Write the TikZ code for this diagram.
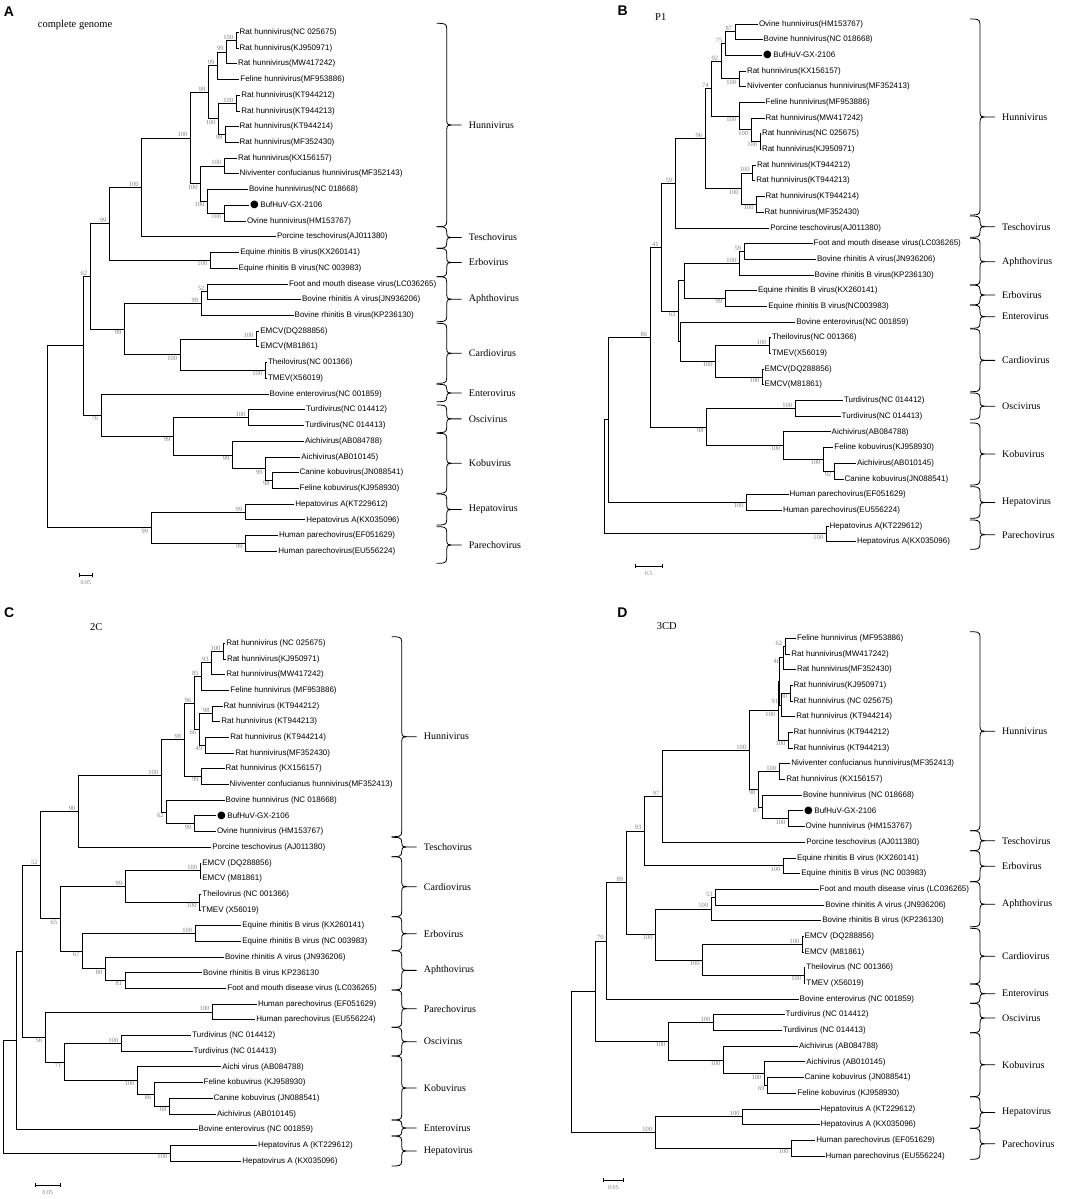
\documentclass[tikz,border=0pt]{standalone}
\usepackage{fontspec}
\setmainfont{Liberation Serif}
\setsansfont{Liberation Sans}
\newfontfamily\dejavu{DejaVu Sans}
\usetikzlibrary{calc}

\newcommand\dotmark{{\dejavu\fontsize{10}{10}\selectfont ●}\hspace{1.5pt}}
\newcommand\inode[5][]{%
  \path let \p1=($(#4)!.5!(#5)$) in coordinate[#1] (#2) at (#3pt,\y1);
  \draw[br] (#2) |- (#4) (#2) |- (#5);}
\newcommand\clade[5]{%
  \pgfmathsetmacro\cMid{(#3+#4)/2}%
  \pgfmathsetmacro\cHk{min(5,(#4-#3)/4)}%
  \draw[brc] (#2,#3) .. controls +(7,0) and +(0,-\cHk) .. (#2+10,#3+\cHk)
    -- (#2+10,\cMid-\cHk) .. controls +(0,\cHk) and +(-3,0) .. (#2+15,\cMid)
    .. controls +(-3,0) and +(0,-\cHk) .. (#2+10,\cMid+\cHk)
    -- (#2+10,#4-\cHk) .. controls +(0,\cHk) and +(7,0) .. (#2,#4)
    (#2+15,\cMid) -- (#2+25,\cMid);
  \node[cname] (#1) at (#2+32,\cMid) {#5};}

\tikzset{
  br/.style={line width=0.9pt},
  brc/.style={line width=0.8pt},
  leaf/.style={anchor=west, inner sep=1pt, font=\sffamily\fontsize{8}{9}\selectfont},
  bs/.style={font=\fontsize{6.5}{7}\selectfont, text=black!50, inner sep=0.8pt, xshift=-2pt},
  bsu/.style={label={[bs]above left:#1}},
  bsd/.style={label={[bs]below left:#1}},
  cname/.style={anchor=west, inner sep=0pt, font=\fontsize{10}{12}\selectfont},
  ttl/.style={anchor=west, inner sep=0pt, font=\fontsize{10.5}{12}\selectfont},
  plet/.style={inner sep=0pt, font=\sffamily\bfseries\fontsize{14}{14}\selectfont},
  sbl/.style={inner sep=0pt, font=\fontsize{6}{7}\selectfont, text=black!50}
}

\begin{document}
\begin{tikzpicture}[x=1pt,y=-1pt]
\fill[white] (0,0) rectangle (1084,1199);
\useasboundingbox (0,0) rectangle (1084,1199);

% A
\node[plet] (pA) at (9,12) {A};
\node[ttl] (tA) at (37.7,25) {complete genome};
\foreach \x/\lab [count=\i] in {
238.5/{Rat hunnivirus(NC 025675)},
238.5/{Rat hunnivirus(KJ950971)},
236.8/{Rat hunnivirus(MW417242)},
239.2/{Feline hunnivirus(MF953886)},
240.2/{Rat hunnivirus(KT944212)},
240.2/{Rat hunnivirus(KT944213)},
238.5/{Rat hunnivirus(KT944214)},
238.5/{Rat hunnivirus(MF352430)},
236.8/{Rat hunnivirus(KX156157)},
238.5/{Niviventer confucianus hunnivirus(MF352143)},
247.8/{Bovine hunnivirus(NC 018668)},
249/{\dotmark BufHuV-GX-2106},
245.8/{Ovine hunnivirus(HM153767)},
275.8/{Porcine teschovirus(AJ011380)},
239.2/{Equine rhinitis B virus(KX260141)},
237.5/{Equine rhinitis B virus(NC 003983)},
287.8/{Foot and mouth disease virus(LC036265)},
300.8/{Bovine rhinitis A virus(JN936206)},
293.5/{Bovine rhinitis B virus(KP236130)},
259.2/{EMCV(DQ288856)},
259.2/{EMCV(M81861)},
266.8/{Theilovirus(NC 001366)},
266.8/{TMEV(X56019)},
268.5/{Bovine enterovirus(NC 001859)},
305.2/{Turdivirus(NC 014412)},
303.8/{Turdivirus(NC 014413)},
303.8/{Aichivirus(AB084788)},
300.2/{Aichivirus(AB010145)},
298.5/{Canine kobuvirus(JN088541)},
298.5/{Feline kobuvirus(KJ958930)},
294.2/{Hepatovirus A(KT229612)},
305.2/{Hepatovirus A(KX035096)},
277.8/{Human parechovirus(EF051629)},
277.2/{Human parechovirus(EU556224)}}
  \node[leaf] (a\i) at (\x,{32.3+15.73*(\i-1)}) {\lab};
\inode[bsu=100]{a1t2}{236}{a1}{a2}
\inode[bsu=99]{a1t3}{226.7}{a1t2}{a3}
\inode[bsu=99]{a1t4}{217.3}{a1t3}{a4}
\inode[bsu=100]{a5t6}{236}{a5}{a6}
\inode[bsd=99]{a7t8}{225.3}{a7}{a8}
\inode[bsd=100]{a5t8}{218.7}{a5t6}{a7t8}
\inode[bsu=99]{a1t8}{208.3}{a1t4}{a5t8}
\inode[bsu=100]{a9t10}{224}{a9}{a10}
\inode[bsd=100]{a12t13}{224}{a12}{a13}
\inode[bsd=100]{a11t13}{207.3}{a11}{a12t13}
\inode[bsd=100]{a9t13}{200.7}{a9t10}{a11t13}
\inode[bsu=100]{a1t13}{190.3}{a1t8}{a9t13}
\inode[bsu=100]{a1t14}{141.7}{a1t13}{a14}
\inode[bsd=100]{a15t16}{210}{a15}{a16}
\inode[bsu=99]{a1t16}{109.3}{a1t14}{a15t16}
\inode[bsu=52]{a17t18}{207.3}{a17}{a18}
\inode[bsu=99]{a17t19}{201}{a17t18}{a19}
\inode[bsu=100]{a20t21}{256.3}{a20}{a21}
\inode[bsd=100]{a22t23}{265}{a22}{a23}
\inode[bsd=100]{a20t23}{180}{a20t21}{a22t23}
\inode[bsd=99]{a17t23}{124.3}{a17t19}{a20t23}
\inode[bsu=62]{a1t23}{90}{a1t16}{a17t23}
\inode[bsu=100]{a25t26}{248.3}{a25}{a26}
\inode[bsd=98]{a29t30}{272.7}{a29}{a30}
\inode[bsd=99]{a28t30}{265.7}{a28}{a29t30}
\inode[bsd=99]{a27t30}{232.3}{a27}{a28t30}
\inode[bsd=99]{a25t30}{173.3}{a25t26}{a27t30}
\inode[bsd=76]{a24t30}{101}{a24}{a25t30}
\inode{a1t30}{83.3}{a1t23}{a24t30}
\inode[bsu=99]{a31t32}{245}{a31}{a32}
\inode[bsd=99]{a33t34}{245.7}{a33}{a34}
\inode[bsd=99]{a31t34}{151}{a31t32}{a33t34}
\inode{a1t34}{47.7}{a1t30}{a31t34}
\foreach \ya/\yb/\nm [count=\k] in {23.3/226.7/Hunnivirus, 226.7/248.3/Teschovirus,
  248.3/276.7/Erbovirus, 276.7/321.7/Aphthovirus, 323.3/383.3/Cardiovirus,
  384.3/401.7/Enterovirus, 405/432.7/Oscivirus, 433.3/493.3/Kobuvirus,
  494/525/Hepatovirus, 526.7/563.3/Parechovirus}
  {\clade{ac\k}{436.7}{\ya}{\yb}{\nm}}
\draw[brc] (79,573) -- (79,577) (79,575) -- (92.7,575) (92.7,573) -- (92.7,577);
\node[sbl] (sA) at (85.8,583) {0.05};

% B
\node[plet] (pB) at (622.7,11) {B};
\node[ttl] (tB) at (655,16.7) {P1};
\foreach \x/\lab [count=\i] in {
757.8/{Ovine hunnivirus(HM153767)},
762.5/{Bovine hunnivirus(NC 018668)},
762/{\dotmark BufHuV-GX-2106},
745.8/{Rat hunnivirus(KX156157)},
745.8/{Niviventer confucianus hunnivirus(MF352413)},
764.5/{Feline hunnivirus(MF953886)},
764.5/{Rat hunnivirus(MW417242)},
760.8/{Rat hunnivirus(NC 025675)},
760.8/{Rat hunnivirus(KJ950971)},
755.8/{Rat hunnivirus(KT944212)},
755.2/{Rat hunnivirus(KT944213)},
764.5/{Rat hunnivirus(KT944214)},
763.5/{Rat hunnivirus(MF352430)},
769.2/{Porcine teschovirus(AJ011380)},
812.5/{Foot and mouth disease virus(LC036265)},
815.8/{Bovine rhinitis A virus(JN936206)},
813.5/{Bovine rhinitis B virus(KP236130)},
756.8/{Equine rhinitis B virus(KX260141)},
767.2/{Equine rhinitis B virus(NC003983)},
795.2/{Bovine enterovirus(NC 001859)},
770.8/{Theilovirus(NC 001366)},
770.8/{TMEV(X56019)},
763.5/{EMCV(DQ288856)},
763.5/{EMCV(M81861)},
842.8/{Turdivirus(NC 014412)},
840.5/{Turdivirus(NC 014413)},
830.5/{Aichivirus(AB084788)},
833.2/{Feline kobuvirus(KJ958930)},
855.8/{Aichivirus(AB010145)},
843.5/{Canine kobuvirus(JN088541)},
788.5/{Human parechovirus(EF051629)},
781.8/{Human parechovirus(EU556224)},
828.5/{Hepatovirus A(KT229612)},
855.8/{Hepatovirus A(KX035096)}}
  \node[leaf] (b\i) at (\x,{24+15.69*(\i-1)}) {\lab};
\inode[bsu=87]{b1t2}{735}{b1}{b2}
\inode[bsu=75]{b1t3}{725.3}{b1t2}{b3}
\inode[bsd=100]{b4t5}{739}{b4}{b5}
\inode[bsu=92]{b1t5}{721}{b1t3}{b4t5}
\inode[bsd=100]{b8t9}{760}{b8}{b9}
\inode[bsd=100]{b7t9}{751}{b7}{b8t9}
\inode[bsd=100]{b6t9}{739}{b6}{b7t9}
\inode[bsu=74]{b1t9}{711.7}{b1t5}{b6t9}
\inode[bsu=100]{b10t11}{752.7}{b10}{b11}
\inode[bsd=100]{b12t13}{756.7}{b12}{b13}
\inode[bsd=100]{b10t13}{741.7}{b10t11}{b12t13}
\inode[bsu=96]{b1t13}{705}{b1t9}{b10t13}
\inode[bsu=59]{b1t14}{675}{b1t13}{b14}
\inode[bsu=59]{b15t16}{744}{b15}{b16}
\inode[bsu=100]{b15t17}{739}{b15t16}{b17}
\inode[bsd=99]{b18t19}{725}{b18}{b19}
\inode{b15t19}{684}{b15t17}{b18t19}
\inode[bsu=100]{b21t22}{769.3}{b21}{b22}
\inode[bsd=100]{b23t24}{762.3}{b23}{b24}
\inode[bsd=100]{b21t24}{715.7}{b21t22}{b23t24}
\inode{b20t24}{680.7}{b20}{b21t24}
\inode[bsd=63]{b15t24}{678.3}{b15t19}{b20t24}
\inode[bsu=41]{b1t24}{661.7}{b1t14}{b15t24}
\inode[bsu=100]{b25t26}{795}{b25}{b26}
\inode[bsd=92]{b29t30}{834.3}{b29}{b30}
\inode[bsd=100]{b28t30}{823.3}{b28}{b29t30}
\inode[bsd=100]{b27t30}{783.3}{b27}{b28t30}
\inode[bsd=98]{b25t30}{706.7}{b25t26}{b27t30}
\inode[bsu=86]{b1t30}{650}{b1t24}{b25t30}
\inode[bsd=100]{b31t32}{746.7}{b31}{b32}
\inode{b1t32}{608.3}{b1t30}{b31t32}
\inode[bsd=100]{b33t34}{826}{b33}{b34}
\inode{b1t34}{604}{b1t32}{b33t34}
\foreach \ya/\yb/\nm [count=\k] in {19/215/Hunnivirus, 216/237.3/Teschovirus,
  238.3/285/Aphthovirus, 285/305/Erbovirus, 305/328.3/Enterovirus,
  329/391.7/Cardiovirus, 393/419.3/Oscivirus, 423/485/Kobuvirus,
  486.7/518.3/Hepatovirus, 520/549.3/Parechovirus}
  {\clade{bc\k}{970}{\ya}{\yb}{\nm}}
\draw[brc] (635,564) -- (635,568) (635,566) -- (662.3,566) (662.3,564) -- (662.3,568);
\node[sbl] (sB) at (648.7,573.3) {0.5};

% C
\node[plet] (pC) at (9.2,612.5) {C};
\node[ttl] (tC) at (90,626.7) {2C};
\foreach \x/\lab [count=\i] in {
225.2/{Rat hunnivirus (NC 025675)},
225.8/{Rat hunnivirus(KJ950971)},
225.2/{Rat hunnivirus(MW417242)},
229.2/{Feline hunnivirus (MF953886)},
222.5/{Rat hunnivirus (KT944212)},
220.2/{Rat hunnivirus (KT944213)},
229.2/{Rat hunnivirus (KT944214)},
234.2/{Rat hunnivirus(MF352430)},
224.5/{Rat hunnivirus (KX156157)},
228.5/{Niviventer confucianus hunnivirus(MF352413)},
224.5/{Bovine hunnivirus (NC 018668)},
216/{\dotmark BufHuV-GX-2106},
215.8/{Ovine hunnivirus (HM153767)},
211.2/{Porcine teschovirus (AJ011380)},
201.2/{EMCV (DQ288856)},
201.2/{EMCV (M81861)},
201.2/{Theilovirus (NC 001366)},
200.2/{TMEV (X56019)},
241.2/{Equine rhinitis B virus (KX260141)},
241.2/{Equine rhinitis B virus (NC 003983)},
223.8/{Bovine rhinitis A virus (JN936206)},
201.8/{Bovine rhinitis B virus KP236130},
226.2/{Foot and mouth disease virus (LC036265)},
256.8/{Human parechovirus (EF051629)},
255.2/{Human parechovirus (EU556224)},
191.2/{Turdivirus (NC 014412)},
192.5/{Turdivirus (NC 014413)},
221.2/{Aichi virus (AB084788)},
202.5/{Feline kobuvirus (KJ958930)},
212.5/{Canine kobuvirus (JN088541)},
215.8/{Aichivirus (AB010145)},
197.5/{Bovine enterovirus (NC 001859)},
256.8/{Hepatovirus A (KT229612)},
241.2/{Hepatovirus A (KX035096)}}
  \node[leaf] (c\i) at (\x,{643.3+15.69*(\i-1)}) {\lab};
\inode[bsu=100]{c1t2}{223.3}{c1}{c2}
\inode[bsu=93]{c1t3}{211.7}{c1t2}{c3}
\inode[bsu=85]{c1t4}{201.7}{c1t3}{c4}
\inode[bsu=98]{c5t6}{212.7}{c5}{c6}
\inode[bsd=49]{c7t8}{205}{c7}{c8}
\inode[bsd=66]{c5t8}{199}{c5t6}{c7t8}
\inode[bsu=96]{c1t8}{194}{c1t4}{c5t8}
\inode[bsd=99]{c9t10}{201.7}{c9}{c10}
\inode[bsu=98]{c1t10}{184}{c1t8}{c9t10}
\inode[bsd=99]{c12t13}{194.3}{c12}{c13}
\inode[bsd=62]{c11t13}{166.7}{c11}{c12t13}
\inode[bsu=100]{c1t13}{161}{c1t10}{c11t13}
\inode[bsu=90]{c1t14}{78.3}{c1t13}{c14}
\inode[bsu=100]{c15t16}{200}{c15}{c16}
\inode[bsd=100]{c17t18}{199.5}{c17}{c18}
\inode[bsu=99]{c15t18}{125}{c15t16}{c17t18}
\inode[bsu=100]{c19t20}{195}{c19}{c20}
\inode[bsd=81]{c22t23}{125}{c22}{c23}
\inode[bsd=80]{c21t23}{105.3}{c21}{c22t23}
\inode[bsd=67]{c19t23}{82.7}{c19t20}{c21t23}
\inode[bsd=65]{c15t23}{60}{c15t18}{c19t23}
\inode[bsu=52]{c1t23}{40.7}{c1t14}{c15t23}
\inode[bsu=100]{c24t25}{212.3}{c24}{c25}
\inode[bsu=100]{c26t27}{121}{c26}{c27}
\inode[bsd=68]{c30t31}{169.3}{c30}{c31}
\inode[bsd=86]{c29t31}{154}{c29}{c30t31}
\inode[bsd=100]{c28t31}{137.3}{c28}{c29t31}
\inode[bsd=71]{c26t31}{64.3}{c26t27}{c28t31}
\inode[bsd=56]{c24t31}{45}{c24t25}{c26t31}
\inode{c1t31}{22.7}{c1t23}{c24t31}
\inode{c1t32}{16.7}{c1t31}{c32}
\inode[bsd=100]{c33t34}{170}{c33}{c34}
\inode{c1t34}{3.3}{c1t32}{c33t34}
\foreach \ya/\yb/\nm [count=\k] in {636.7/836.7/Hunnivirus, 837.3/856.7/Teschovirus,
  856.7/916.7/Cardiovirus, 916.7/950.7/Erbovirus, 950.7/990/Aphthovirus,
  990/1027.3/Parechovirus, 1027.3/1056/Oscivirus, 1056/1120/Kobuvirus,
  1120/1136/Enterovirus, 1136/1166/Hepatovirus}
  {\clade{cc\k}{391.7}{\ya}{\yb}{\nm}}
\draw[brc] (35,1183) -- (35,1187) (35,1185) -- (60,1185) (60,1183) -- (60,1187);
\node[sbl] (sC) at (47.5,1192.7) {0.05};

% D
\node[plet] (pD) at (622.5,612.5) {D};
\node[ttl] (tD) at (656.7,625.7) {3CD};
\foreach \x/\lab [count=\i] in {
795.8/{Feline hunnivirus (MF953886)},
790.2/{Rat hunnivirus(MW417242)},
795.8/{Rat hunnivirus(MF352430)},
792.5/{Rat hunnivirus(KJ950971)},
792.5/{Rat hunnivirus (NC 025675)},
795.2/{Rat hunnivirus (KT944214)},
792.5/{Rat hunnivirus (KT944212)},
792.5/{Rat hunnivirus (KT944213)},
790.2/{Niviventer confucianus hunnivirus(MF352413)},
785.2/{Rat hunnivirus (KX156157)},
801.8/{Bovine hunnivirus (NC 018668)},
803/{\dotmark BufHuV-GX-2106},
804.5/{Ovine hunnivirus (HM153767)},
805.2/{Porcine teschovirus (AJ011380)},
795.8/{Equine rhinitis B virus (KX260141)},
800.2/{Equine rhinitis B virus (NC 003983)},
818.5/{Foot and mouth disease virus (LC036265)},
824.2/{Bovine rhinitis A virus (JN936206)},
821.2/{Bovine rhinitis B virus (KP236130)},
803.5/{EMCV (DQ288856)},
803.5/{EMCV (M81861)},
805.2/{Theilovirus (NC 001366)},
805.2/{TMEV (X56019)},
798.5/{Bovine enterovirus (NC 001859)},
784.5/{Turdivirus (NC 014412)},
781.8/{Turdivirus (NC 014413)},
797.8/{Aichivirus (AB084788)},
805.2/{Aichivirus (AB010145)},
803.5/{Canine kobuvirus (JN088541)},
796.2/{Feline kobuvirus (KJ958930)},
819.5/{Hepatovirus A (KT229612)},
819.5/{Hepatovirus A (KX035096)},
815.2/{Human parechovirus (EF051629)},
824.5/{Human parechovirus (EU556224)}}
  \node[leaf] (d\i) at (\x,{638.3+15.69*(\i-1)}) {\lab};
\inode[bsu=62]{d1t2}{785}{d1}{d2}
\inode[bsd=48]{d1t3}{783}{d1t2}{d3}
\inode[bsd=100]{d4t5}{790}{d4}{d5}
\inode[bsu=91]{d4t6}{781}{d4t5}{d6}
\inode{d1t6}{779.5}{d1t3}{d4t6}
\inode[bsd=100]{d7t8}{788.3}{d7}{d8}
\inode[bsd=100]{d1t8}{778}{d1t6}{d7t8}
\inode[bsu=100]{d9t10}{779}{d9}{d10}
\inode[bsd=100]{d12t13}{788.3}{d12}{d13}
\inode[bsd=87]{d11t13}{762.7}{d11}{d12t13}
\inode[bsd=98]{d9t13}{758.3}{d9t10}{d11t13}
\inode[bsu=100]{d1t13}{749}{d1t8}{d9t13}
\inode[bsu=97]{d1t14}{662.3}{d1t13}{d14}
\inode[bsd=100]{d15t16}{783.3}{d15}{d16}
\inode[bsu=93]{d1t16}{644.3}{d1t14}{d15t16}
\inode[bsu=53]{d17t18}{715.7}{d17}{d18}
\inode[bsu=100]{d17t19}{711}{d17t18}{d19}
\inode[bsu=100]{d20t21}{802.3}{d20}{d21}
\inode[bsd=100]{d22t23}{804}{d22}{d23}
\inode[bsd=100]{d20t23}{702.7}{d20t21}{d22t23}
\inode[bsd=100]{d17t23}{655.7}{d17t19}{d20t23}
\inode[bsu=89]{d1t23}{626}{d1t16}{d17t23}
\inode[bsu=70]{d1t24}{606.7}{d1t23}{d24}
\inode[bsu=100]{d25t26}{713.3}{d25}{d26}
\inode[bsd=69]{d29t30}{767.7}{d29}{d30}
\inode[bsd=100]{d28t30}{764.3}{d28}{d29t30}
\inode[bsd=100]{d27t30}{723.3}{d27}{d28t30}
\inode[bsd=100]{d25t30}{668.3}{d25t26}{d27t30}
\inode{d1t30}{595}{d1t24}{d25t30}
\inode[bsu=100]{d31t32}{742.7}{d31}{d32}
\inode[bsd=100]{d33t34}{791.7}{d33}{d34}
\inode[bsu=100]{d31t34}{655}{d31t32}{d33t34}
\inode{d1t34}{571.7}{d1t30}{d31t34}
\foreach \ya/\yb/\nm [count=\k] in {631.7/830.7/Hunnivirus, 830.7/850.7/Teschovirus,
  850.7/881.7/Erbovirus, 881.7/926.7/Aphthovirus, 928.3/984/Cardiovirus,
  984/1003.3/Enterovirus, 1003.3/1032.7/Oscivirus, 1032.7/1096.7/Kobuvirus,
  1096.7/1128.3/Hepatovirus, 1128.3/1159.3/Parechovirus}
  {\clade{dc\k}{970}{\ya}{\yb}{\nm}}
\draw[brc] (603.3,1178) -- (603.3,1182) (603.3,1180) -- (623.3,1180) (623.3,1178) -- (623.3,1182);
\node[sbl] (sD) at (613.3,1187.3) {0.05};
\end{tikzpicture}
\end{document}
